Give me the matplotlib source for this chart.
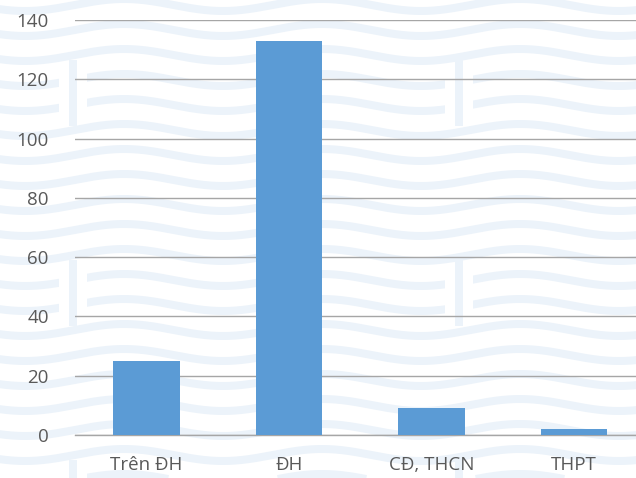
import numpy as np
import matplotlib
matplotlib.use("Agg")
import matplotlib.pyplot as plt
from matplotlib.patches import Rectangle

plt.rcParams['font.family'] = ['Open Sans', 'DejaVu Sans']

# Data
categories = ["Trên ĐH", "ĐH", "CĐ, THCN", "THPT"]
values = [25, 133, 9, 2]
y_ticks = [0, 20, 40, 60, 80, 100, 120, 140]

W, H = 636, 478
fig = plt.figure(figsize=(W / 100, H / 100), dpi=100)
fig.patch.set_facecolor("white")

# Decorative wavy background, drawn in pixel coordinates
bg = fig.add_axes([0, 0, 1, 1], zorder=-10)
bg.set_xlim(0, W)
bg.set_ylim(H, 0)
bg.axis("off")
wave_color = "#ecf3fa"
period, amp, spacing, base, crest_x = 198.0, 6.0, 25.0, 5.0, 124.0
xs = np.linspace(-10, W + 10, 800)
px_to_pt = 72 / 100
for k in range(-1, 21):
    ys = base + spacing * k - amp * np.cos(2 * np.pi * (xs - crest_x) / period)
    bg.plot(xs, ys, color=wave_color, lw=8 * px_to_pt, solid_capstyle="butt")
for x0 in (73, 459):
    for y0 in (62, 262, 462):
        bg.add_patch(Rectangle((x0 - 14, y0 + 9), 28, 47, facecolor="white",
                               edgecolor="none", zorder=3))
        bg.add_patch(Rectangle((x0 - 4, y0 - 2), 8, 66, facecolor=wave_color,
                               edgecolor="none", zorder=4))

# Main chart
left = 75.25 / W
width = 570.0 / W
bottom = (H - 435) / H
height = 415 / H
ax = fig.add_axes([left, bottom, width, height])
ax.patch.set_alpha(0)

x = np.arange(len(categories))
ax.bar(x, values, width=0.47, color="#5b9bd5", zorder=3)
ax.set_xlim(-0.5, len(categories) - 0.5)
ax.set_ylim(0, 140)
ax.set_yticks(y_ticks)
ax.set_xticks(x)
ax.set_xticklabels(categories)

for s in ["top", "right", "left"]:
    ax.spines[s].set_visible(False)
ax.spines["bottom"].set_color("#a6a6a6")
ax.spines["bottom"].set_linewidth(1.0)
ax.spines["bottom"].set_zorder(2)

ax.yaxis.grid(True, color="#a6a6a6", linewidth=1.0, zorder=1)
ax.set_axisbelow(True)
ax.tick_params(axis="y", length=0, pad=19, labelsize=13.5, labelcolor="#595959")
ax.tick_params(axis="x", length=0, pad=15, labelsize=13.5, labelcolor="#595959")

fig.savefig("out.png", dpi=100, facecolor="white")
